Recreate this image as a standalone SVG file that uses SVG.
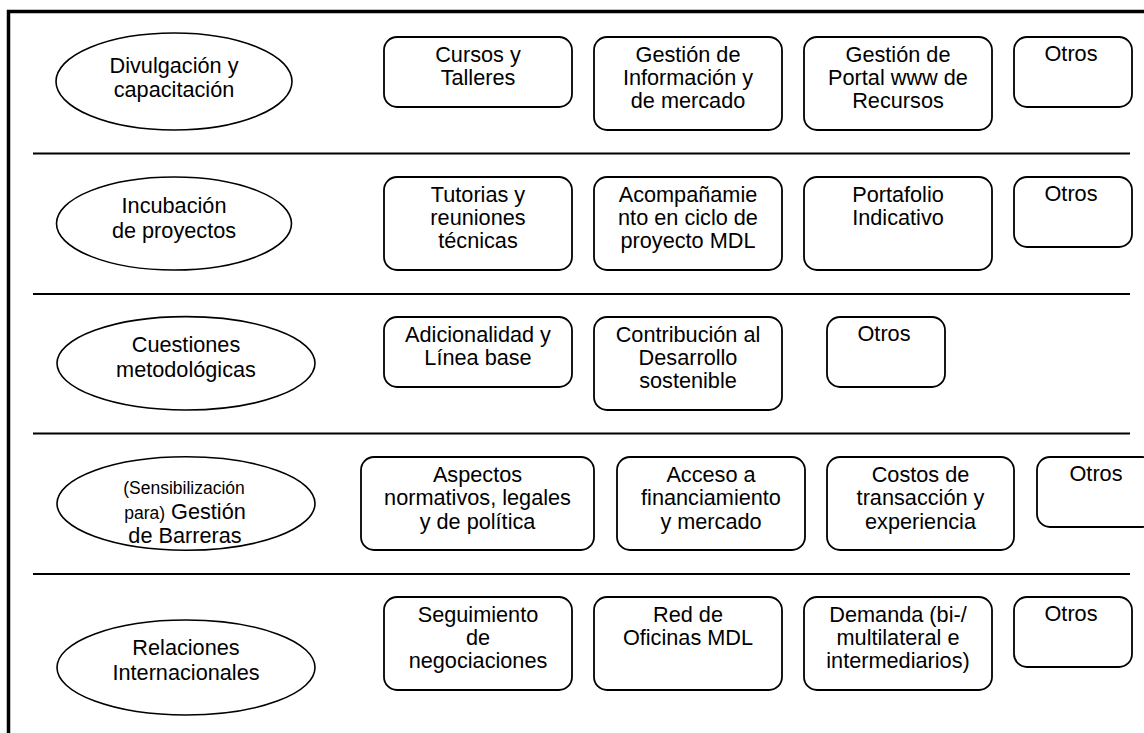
<svg xmlns="http://www.w3.org/2000/svg" width="1144" height="733" viewBox="0 0 1144 733">
<style>
text{font-family:"Liberation Sans",Arial,sans-serif;font-size:21.7px;fill:#000;text-anchor:middle}
.sm{font-size:17.5px}
.box{fill:#fff;stroke:#000;stroke-width:1.8}
.ell{fill:#fff;stroke:#000;stroke-width:1.6}
.sep{stroke:#000;stroke-width:2.2}
</style>
<rect x="0" y="0" width="1144" height="733" fill="#fff"/>
<rect x="8.5" y="11.5" width="1150" height="740" fill="none" stroke="#000" stroke-width="3.5"/>
<g id="separators">
<line class="sep" x1="33" y1="153.5" x2="1130" y2="153.5"/>
<line class="sep" x1="33" y1="294" x2="1130" y2="294"/>
<line class="sep" x1="33" y1="433.5" x2="1130" y2="433.5"/>
<line class="sep" x1="33" y1="574" x2="1130" y2="574"/>
</g>
<!-- Row 1 -->
<g id="e1"><ellipse class="ell" cx="174" cy="81.5" rx="118" ry="48.5"/><text x="174" y="73">Divulgación y</text><text x="174" y="97">capacitación</text></g>
<g id="b11"><rect class="box" x="384" y="37" width="188" height="70" rx="13"/><text x="478" y="61.7">Cursos y</text><text x="478" y="85">Talleres</text></g>
<g id="b12"><rect class="box" x="594" y="37" width="188" height="93" rx="13"/><text x="688" y="61.7">Gestión de</text><text x="688" y="85">Información y</text><text x="688" y="108.3">de mercado</text></g>
<g id="b13"><rect class="box" x="804" y="37" width="188" height="93" rx="13"/><text x="898" y="61.7">Gestión de</text><text x="898" y="85">Portal www de</text><text x="898" y="108.3">Recursos</text></g>
<g id="b14"><rect class="box" x="1014" y="37" width="118" height="70" rx="13"/><text x="1071" y="60.5">Otros</text></g>
<!-- Row 2 -->
<g id="e2"><ellipse class="ell" cx="174" cy="223.5" rx="117.5" ry="46.5"/><text x="174" y="213.3">Incubación</text><text x="174" y="238.3">de proyectos</text></g>
<g id="b21"><rect class="box" x="384" y="177" width="188" height="93" rx="13"/><text x="478" y="201.7">Tutorias y</text><text x="478" y="225">reuniones</text><text x="478" y="248.3">técnicas</text></g>
<g id="b22"><rect class="box" x="594" y="177" width="188" height="93" rx="13"/><text x="688" y="201.7">Acompañamie</text><text x="688" y="225">nto en ciclo de</text><text x="688" y="248.3">proyecto MDL</text></g>
<g id="b23"><rect class="box" x="804" y="177" width="188" height="93" rx="13"/><text x="898" y="201.7">Portafolio</text><text x="898" y="225">Indicativo</text></g>
<g id="b24"><rect class="box" x="1014" y="177" width="118" height="70" rx="13"/><text x="1071" y="200.5">Otros</text></g>
<!-- Row 3 -->
<g id="e3"><ellipse class="ell" cx="186" cy="363.3" rx="129" ry="46.7"/><text x="186" y="351.7">Cuestiones</text><text x="186" y="377.3">metodológicas</text></g>
<g id="b31"><rect class="box" x="384" y="317" width="188" height="70" rx="13"/><text x="478" y="341.7">Adicionalidad y</text><text x="478" y="365">Línea base</text></g>
<g id="b32"><rect class="box" x="594" y="317" width="188" height="93" rx="13"/><text x="688" y="341.7">Contribución al</text><text x="688" y="365">Desarrollo</text><text x="688" y="388.3">sostenible</text></g>
<g id="b33"><rect class="box" x="827" y="317" width="118" height="70" rx="13"/><text x="884" y="340.5">Otros</text></g>
<!-- Row 4 -->
<g id="e4"><ellipse class="ell" cx="186" cy="503.5" rx="129" ry="46.7"/><text x="184" y="494" class="sm">(Sensibilización</text><text x="185" y="519"><tspan class="sm">para)</tspan> Gestión</text><text x="185" y="542.7">de Barreras</text></g>
<g id="b41"><rect class="box" x="361" y="457" width="233" height="93" rx="13"/><text x="477.5" y="482">Aspectos</text><text x="477.5" y="505.3">normativos, legales</text><text x="477.5" y="528.6">y de política</text></g>
<g id="b42"><rect class="box" x="617" y="457" width="188" height="93" rx="13"/><text x="711" y="482">Acceso a</text><text x="711" y="505.3">financiamiento</text><text x="711" y="528.6">y mercado</text></g>
<g id="b43"><rect class="box" x="827" y="457" width="187" height="93" rx="13"/><text x="920.5" y="482">Costos de</text><text x="920.5" y="505.3">transacción y</text><text x="920.5" y="528.6">experiencia</text></g>
<g id="b44"><rect class="box" x="1037" y="457" width="118" height="70" rx="13"/><text x="1096" y="480.7">Otros</text></g>
<!-- Row 5 -->
<g id="e5"><ellipse class="ell" cx="186" cy="667.5" rx="129" ry="47.5"/><text x="186" y="655">Relaciones</text><text x="186" y="680">Internacionales</text></g>
<g id="b51"><rect class="box" x="384" y="597" width="188" height="93" rx="13"/><text x="478" y="621.7">Seguimiento</text><text x="478" y="645">de</text><text x="478" y="668.3">negociaciones</text></g>
<g id="b52"><rect class="box" x="594" y="597" width="188" height="93" rx="13"/><text x="688" y="621.7">Red de</text><text x="688" y="645">Oficinas MDL</text></g>
<g id="b53"><rect class="box" x="804" y="597" width="188" height="93" rx="13"/><text x="898" y="621.7">Demanda (bi-/</text><text x="898" y="645">multilateral e</text><text x="898" y="668.3">intermediarios)</text></g>
<g id="b54"><rect class="box" x="1014" y="597" width="118" height="70" rx="13"/><text x="1071" y="620.7">Otros</text></g>
</svg>
